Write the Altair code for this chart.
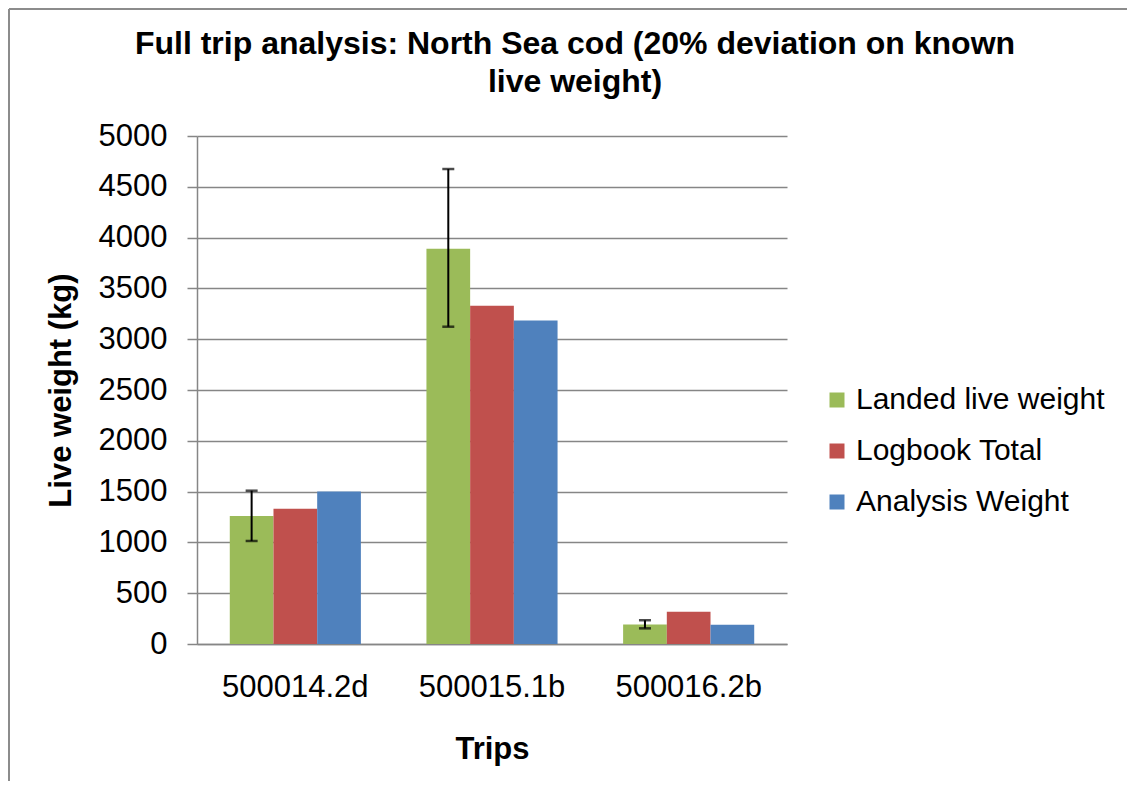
import altair as alt
import pandas as pd

trips = ["500014.2d", "500015.1b", "500016.2b"]
series = ["Landed live weight", "Logbook Total", "Analysis Weight"]
landed = [1260, 3890, 193]
logbook = [1330, 3330, 318]
analysis = [1500, 3185, 190]
err_low = [1014, 3123, 154]
err_high = [1509, 4675, 234]
colors = ["#9BBB59", "#C0504D", "#4F81BD"]
y_ticks = [0, 500, 1000, 1500, 2000, 2500, 3000, 3500, 4000, 4500, 5000]

rows = []
for i, t in enumerate(trips):
    for s, vals in zip(series, [landed, logbook, analysis]):
        rows.append({"trip": t, "series": s, "value": vals[i]})
df = pd.DataFrame(rows)

err = pd.DataFrame({
    "trip": trips,
    "series": [series[0]] * len(trips),
    "value": err_low,
    "hi": err_high,
})

FONT = "Liberation Sans"
GRAY = "#868686"

x_axis = alt.Axis(
    labelAngle=0, ticks=False, labelPadding=28, labelFontSize=31,
    labelColor="#000000", titleFontSize=31, titleFontWeight="bold",
    titleColor="#000000", titleY=114, titleBaseline="alphabetic",
    domainColor=GRAY, domainWidth=1.5, grid=False,
)
y_axis = alt.Axis(
    values=y_ticks, format="d", labelFontSize=31, labelColor="#000000", tickSize=10,
    labelPadding=20, tickColor=GRAY, tickWidth=1.5, domainColor=GRAY,
    domainWidth=1.5, gridColor=GRAY, gridWidth=1.5, titleFontSize=31,
    titleFontWeight="bold", titleColor="#000000", titleAngle=270,
    titleX=-127, titleY=254, titleBaseline="alphabetic", titleAlign="center",
)

x_enc = alt.X("trip:N", sort=trips, title="Trips", axis=x_axis,
              scale=alt.Scale(paddingInner=1/3, paddingOuter=1/6))
xo_enc = alt.XOffset("series:N", sort=series,
                     scale=alt.Scale(domain=series, paddingInner=0, paddingOuter=0))
y_scale = alt.Scale(domain=[0, 5000], nice=False)

bars = alt.Chart(df).mark_bar().encode(
    x=x_enc,
    xOffset=xo_enc,
    y=alt.Y("value:Q", title="Live weight (kg)", axis=y_axis, scale=y_scale),
    color=alt.Color(
        "series:N", sort=series,
        scale=alt.Scale(domain=series, range=colors),
        legend=alt.Legend(
            title=None, orient="none", legendX=625, legendY=249,
            symbolType="square", symbolSize=225, symbolStrokeWidth=0,
            labelFontSize=30, labelColor="#000000", labelOffset=4,
            rowPadding=21, labelLimit=0, padding=0,
        ),
    ),
)

rule = alt.Chart(err).mark_rule(color="black", strokeWidth=2).encode(
    x=x_enc, xOffset=xo_enc,
    y=alt.Y("value:Q", title="Live weight (kg)", axis=y_axis, scale=y_scale),
    y2="hi:Q",
)
cap_lo = alt.Chart(err).mark_tick(color="black", orient="horizontal", size=12, thickness=2.5).encode(
    x=x_enc, xOffset=xo_enc,
    y=alt.Y("value:Q", title="Live weight (kg)", axis=y_axis, scale=y_scale),
)
cap_hi = alt.Chart(err).mark_tick(color="black", orient="horizontal", size=12, thickness=2.5).encode(
    x=x_enc, xOffset=xo_enc,
    y=alt.Y("hi:Q", title="Live weight (kg)", axis=y_axis, scale=y_scale),
)

frame_df = pd.DataFrame({"k": [0]})
frame_left = alt.Chart(frame_df).mark_rule(color="#8c8c8c", strokeWidth=2).encode(
    x=alt.value(-188), y=alt.value(-127), y2=alt.value(650)
)
frame_top = alt.Chart(frame_df).mark_rule(color="#8c8c8c", strokeWidth=2).encode(
    x=alt.value(-188), x2=alt.value(935), y=alt.value(-127)
)

chart = alt.layer(bars, rule, cap_lo, cap_hi, frame_left, frame_top).properties(
    width=590,
    height=508,
    autosize="none",
    padding={"left": 189, "top": 128, "right": 340, "bottom": 137},
    title=alt.TitleParams(
        text=["Full trip analysis: North Sea cod (20% deviation on known", "live weight)"],
        fontSize=32, fontWeight="bold", font=FONT, color="#000000",
        anchor="middle", dx=83, lineHeight=38, offset=-91,
    ),
).configure(font=FONT).configure_view(stroke=None)

chart.save("out.html", embed_options={"renderer": "svg", "actions": False})
